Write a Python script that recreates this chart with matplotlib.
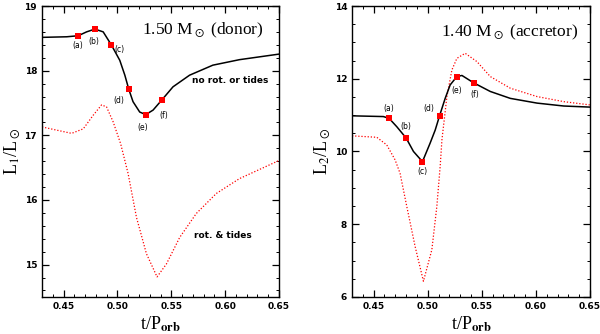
import matplotlib

matplotlib.use("Agg")
import matplotlib.pyplot as plt  # noqa: E402
from matplotlib.ticker import MultipleLocator  # noqa: E402

plt.rcParams["mathtext.fontset"] = "stix"
plt.rcParams["font.family"] = ["Liberation Serif", "DejaVu Serif"]

# donor (left panel)
donor_x = [0.4300, 0.4529, 0.4636, 0.4714, 0.4791, 0.4868, 0.4945, 0.5022,
           0.5069, 0.5106, 0.5145, 0.5207, 0.5263, 0.5331, 0.5414, 0.5516,
           0.5670, 0.5886, 0.6133, 0.6500]
donor_y = [18.515, 18.524, 18.54, 18.60, 18.643, 18.60, 18.395, 18.16,
           17.93, 17.71, 17.52, 17.36, 17.32, 17.39, 17.55, 17.75,
           17.93, 18.085, 18.17, 18.256]
donor_rot_x = [0.4300, 0.4436, 0.4575, 0.4683, 0.4775, 0.4853, 0.4899, 0.4960,
               0.5030, 0.5099, 0.5177, 0.5269, 0.5368, 0.5455, 0.5578, 0.5732,
               0.5918, 0.6133, 0.6500]
donor_rot_y = [17.13, 17.08, 17.03, 17.10, 17.31, 17.47, 17.44, 17.21,
               16.87, 16.41, 15.73, 15.17, 14.81, 15.01, 15.42, 15.79,
               16.10, 16.33, 16.61]
donor_pts_x = [0.4636, 0.4791, 0.4945, 0.5106, 0.5263, 0.5414]
donor_pts_y = [18.54, 18.643, 18.395, 17.71, 17.32, 17.55]

# accretor (right panel)
acc_x = [0.4300, 0.4590, 0.4643, 0.4714, 0.4800, 0.4868, 0.4951, 0.5022,
         0.5069, 0.5109, 0.5161, 0.5207, 0.5269, 0.5316, 0.5423, 0.5578,
         0.5763, 0.6010, 0.6257, 0.6500]
acc_y = [10.98, 10.96, 10.91, 10.68, 10.37, 10.00, 9.72, 10.23,
         10.59, 10.98, 11.46, 11.83, 12.06, 12.09, 11.89, 11.65,
         11.46, 11.33, 11.25, 11.22]
acc_rot_x = [0.4300, 0.4529, 0.4621, 0.4698, 0.4744, 0.4806, 0.4883, 0.4960,
             0.5038, 0.5084, 0.5115, 0.5131, 0.5177, 0.5223, 0.5269, 0.5346,
             0.5455, 0.5578, 0.5763, 0.6010, 0.6257, 0.6500]
acc_rot_y = [10.43, 10.39, 10.18, 9.77, 9.40, 8.49, 7.39, 6.43,
             7.30, 8.49, 9.60, 10.32, 11.51, 12.24, 12.56, 12.70,
             12.47, 12.06, 11.74, 11.51, 11.37, 11.28]
acc_pts_x = [0.4643, 0.4800, 0.4951, 0.5109, 0.5269, 0.5423]
acc_pts_y = [10.91, 10.37, 9.72, 10.98, 12.06, 11.89]

point_labels = ["(a)", "(b)", "(c)", "(d)", "(e)", "(f)"]
# label offsets in points relative to the marker
donor_offsets = [(0, -7), (-1, -9), (6, -3), (-7.5, -7.7), (-2, -9), (1, -11)]
acc_offsets = [(0, 7), (0, 8.5), (0, -7), (-8, 5), (0, -10), (1, -8.5)]

fig = plt.figure(figsize=(6.0, 3.34), dpi=100)
ax1 = fig.add_axes([0.07, 0.111, 0.395, 0.871])
ax2 = fig.add_axes([0.5867, 0.111, 0.3967, 0.871])


def style(ax, ymaj, ymin):
    ax.xaxis.set_major_locator(MultipleLocator(0.05))
    ax.xaxis.set_minor_locator(MultipleLocator(0.01))
    ax.yaxis.set_major_locator(MultipleLocator(ymaj))
    ax.yaxis.set_minor_locator(MultipleLocator(ymin))
    ax.tick_params(which="both", direction="in", top=True, right=True)
    ax.tick_params(which="major", length=5, width=0.9)
    ax.tick_params(which="minor", length=2.5, width=0.7)
    for lab in ax.get_xticklabels() + ax.get_yticklabels():
        lab.set_family("DejaVu Sans")
        lab.set_fontweight("bold")
        lab.set_fontsize(6.5)
    for sp in ax.spines.values():
        sp.set_linewidth(1.0)
    ax.set_xlabel(r"t/P$_{\rm \mathbf{orb}}$", fontsize=13, labelpad=3)


def draw(ax, x, y, rx, ry, px, py, offsets):
    ax.plot(rx, ry, color="red", linestyle=(0, (1, 1.5)), linewidth=0.9)
    ax.plot(x, y, color="black", linewidth=1.1)
    ax.plot(px, py, "s", color="red", markersize=3.8, markeredgewidth=0)
    for lab, xx, yy, off in zip(point_labels, px, py, offsets):
        ax.annotate(lab, (xx, yy), xytext=off, textcoords="offset points",
                    ha="center", va="center", fontsize=5.5, family="DejaVu Sans")


draw(ax1, donor_x, donor_y, donor_rot_x, donor_rot_y, donor_pts_x, donor_pts_y,
     donor_offsets)
ax1.set_xlim(0.43, 0.65)
ax1.set_ylim(14.5, 19)
style(ax1, 1, 0.2)
ax1.set_ylabel(r"L$_1$/L$_\odot$", fontsize=13, labelpad=2)
ax1.text(0.935, 0.915, r"1.50 M$_\odot$ (donor)", transform=ax1.transAxes,
         ha="right", va="center", fontsize=12.5)
ax1.text(0.955, 0.745, "no rot. or tides", transform=ax1.transAxes,
         ha="right", va="center", fontsize=6.5, family="DejaVu Sans",
         fontweight="bold")
ax1.text(0.64, 0.21, "rot. & tides", transform=ax1.transAxes,
         ha="left", va="center", fontsize=6.5, family="DejaVu Sans",
         fontweight="bold")

draw(ax2, acc_x, acc_y, acc_rot_x, acc_rot_y, acc_pts_x, acc_pts_y, acc_offsets)
ax2.set_xlim(0.43, 0.65)
ax2.set_ylim(6, 14)
style(ax2, 2, 0.5)
ax2.set_ylabel(r"L$_2$/L$_\odot$", fontsize=13, labelpad=2)
ax2.text(0.95, 0.91, r"1.40 M$_\odot$ (accretor)", transform=ax2.transAxes,
         ha="right", va="center", fontsize=12.5)

fig.savefig("out.png", dpi=100)
plt.close(fig)
